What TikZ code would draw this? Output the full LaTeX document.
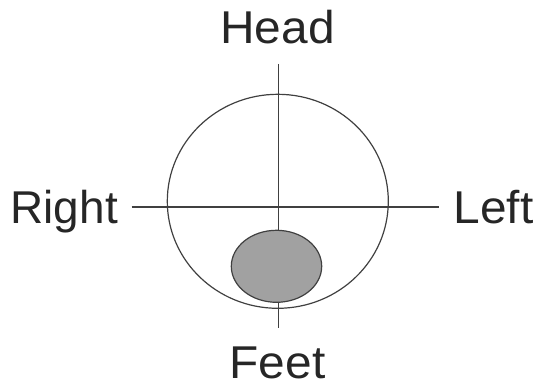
\documentclass[tikz,border=0pt]{standalone}
\usepackage{fontspec}
\setmainfont{Liberation Sans}
\begin{document}
\begin{tikzpicture}[x=1pt,y=-1pt,
  lab/.style={inner sep=0pt,font=\fontsize{46}{54}\selectfont,text=black!85,xscale=1.04},
  axis/.style={draw=black!75,line width=1.2pt},
  outline/.style={draw=black!75,line width=1.2pt},
  blob/.style={draw=black!75,line width=1.2pt,fill=black!37}]
\useasboundingbox (0,0) rectangle (536,385);
\coordinate (vtop) at (278.5,64);
\coordinate (vbot) at (278.5,328);
\coordinate (hl) at (131.5,207);
\coordinate (hr) at (438.5,207);
\draw[axis] (vtop) -- (vbot);
\draw[axis] (hl) -- (hr);
\draw[outline] (277.8,201.3) ellipse [x radius=110.5, y radius=107];
\draw[blob] (276.5,266.3) ellipse [x radius=45.2, y radius=36];
\node[lab,anchor=base] (head) at (277.5,44) {Head};
\node[lab,anchor=base] (feet) at (277.5,378.5) {Feet};
\node[lab,anchor=base east,xscale=0.96] (right) at (118,224) {Right};
\node[lab,anchor=base west] (left) at (453.5,224) {Left};
\end{tikzpicture}
\end{document}
